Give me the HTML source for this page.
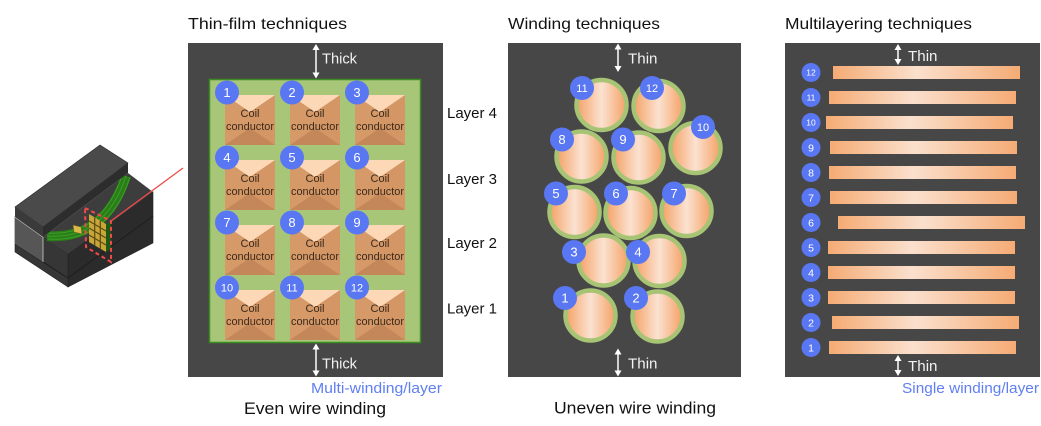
<!DOCTYPE html>
<html><head><meta charset="utf-8"><style>
html,body{margin:0;padding:0;background:#fff;}
svg{display:block;font-family:"Liberation Sans","DejaVu Sans",sans-serif;}
</style></head><body>
<svg width="1041" height="426" viewBox="0 0 1041 426" xmlns="http://www.w3.org/2000/svg">
<defs>
<linearGradient id="cg" x1="0" y1="0" x2="1" y2="0">
<stop offset="0" stop-color="#f4a165"/><stop offset="0.5" stop-color="#fbe2d1"/><stop offset="1" stop-color="#f4a165"/>
</linearGradient>
<linearGradient id="bg" x1="0" y1="0" x2="1" y2="0">
<stop offset="0" stop-color="#f5ab74"/><stop offset="0.45" stop-color="#fae0cd"/><stop offset="1" stop-color="#f5ab74"/>
</linearGradient>
<g id="coil">
<rect x="0" y="0" width="50" height="50" fill="#d49664"/>
<polygon points="0,0 25,17 25,33 0,50" fill="#d69968"/>
<polygon points="0,0 50,0 25,17" fill="#fcd8b6"/>
<polygon points="0,50 50,50 25,33" fill="#c4875a"/>
<text x="25" y="22" font-size="11" text-anchor="middle" fill="#3a2a1c">Coil</text>
<text x="25" y="35" font-size="11" text-anchor="middle" fill="#3a2a1c" textLength="48" lengthAdjust="spacingAndGlyphs">conductor</text>
</g>
<g id="up"><polygon points="0,0 -3.5,6 3.5,6" fill="#fff"/></g>
<g id="dn"><polygon points="0,0 -3.5,-6 3.5,-6" fill="#fff"/></g>
</defs>

<!-- ===== Device ===== -->
<polygon points="68,254 153,192 153,243 68,287" fill="#2b2b2b" stroke="#222" stroke-width="0.6"/>
<polygon points="15,217 68,254 68,287 15,252" fill="#363636" stroke="#222" stroke-width="0.6"/>
<polyline points="15,244 68,278 153,216" stroke="#1e1e1e" stroke-width="1" fill="none"/>
<polygon points="43,237 68,254 153,192 128,173" fill="#3d3d3d"/>
<polygon points="15,217 43,237 43,262 15,244" fill="#565656"/>
<line x1="15" y1="217" x2="43" y2="237" stroke="#ddd" stroke-width="1"/>
<line x1="43" y1="237" x2="43" y2="262" stroke="#ccc" stroke-width="0.8"/>
<path d="M47,236 Q105,240 126,176" stroke="#2a7d18" stroke-width="10" fill="none"/>
<path d="M47,233 Q101,237 122,176" stroke="#3aa024" stroke-width="1" fill="none"/>
<path d="M47,236 Q105,240 126,176" stroke="#3aa024" stroke-width="1" fill="none"/>
<path d="M48,239 Q109,243 130,177" stroke="#3aa024" stroke-width="1" fill="none"/>
<polygon points="73,225 81,227 82,234 74,232" fill="#d8b848" stroke="#6a5a1a" stroke-width="0.5"/>
<!-- coil grid -->
<polygon points="106,224 111,221 111,249 106,252" fill="#1f5a12"/>
<polygon points="89,214 106,224 106,252 89,242" fill="#c9a63a"/>
<g stroke="#5a4a12" stroke-width="1.2">
<line x1="94.7" y1="217.4" x2="94.7" y2="245.4"/>
<line x1="100.3" y1="220.7" x2="100.3" y2="248.7"/>
<line x1="89" y1="221" x2="106" y2="231"/>
<line x1="89" y1="228" x2="106" y2="238"/>
<line x1="89" y1="235" x2="106" y2="245"/>
</g>
<!-- top slab -->
<polygon points="15,207 100,145 128,163 43,227" fill="#4a4a4a" stroke="#2a2a2a" stroke-width="0.6"/>
<polygon points="15,207 43,227 43,237 15,217" fill="#3a3a3a"/>
<polygon points="43,227 128,163 128,173 43,237" fill="#2d2d2d"/>
<!-- red dashed selection & line -->
<polygon points="85,208 111,221 111,262 86,247" fill="none" stroke="#f04a4a" stroke-width="2" stroke-dasharray="4,3"/>
<line x1="111" y1="221" x2="183" y2="168" stroke="#f04a4a" stroke-width="1.3"/>

<!-- ===== Titles ===== -->
<text x="188" y="29" font-size="16" fill="#111" textLength="159" lengthAdjust="spacingAndGlyphs">Thin-film techniques</text>
<text x="508" y="29" font-size="16" fill="#111" textLength="152" lengthAdjust="spacingAndGlyphs">Winding techniques</text>
<text x="785" y="29" font-size="16" fill="#111" textLength="187" lengthAdjust="spacingAndGlyphs">Multilayering techniques</text>

<!-- ===== Panel 1 ===== -->
<rect x="188" y="43" width="255" height="334" fill="#474747"/>
<rect x="209.5" y="79.5" width="211" height="263" fill="#a8c678" stroke="#3d8c23" stroke-width="1.5"/>
<use href="#coil" x="225" y="95"/><use href="#coil" x="290" y="95"/><use href="#coil" x="355" y="95"/>
<use href="#coil" x="225" y="160"/><use href="#coil" x="290" y="160"/><use href="#coil" x="355" y="160"/>
<use href="#coil" x="225" y="225"/><use href="#coil" x="290" y="225"/><use href="#coil" x="355" y="225"/>
<use href="#coil" x="225" y="290"/><use href="#coil" x="290" y="290"/><use href="#coil" x="355" y="290"/>
<g fill="#5977f2">
<circle cx="227" cy="92.5" r="12"/><circle cx="292" cy="92.5" r="12"/><circle cx="357" cy="92.5" r="12"/>
<circle cx="227" cy="157.5" r="12"/><circle cx="292" cy="157.5" r="12"/><circle cx="357" cy="157.5" r="12"/>
<circle cx="227" cy="222.5" r="12"/><circle cx="292" cy="222.5" r="12"/><circle cx="357" cy="222.5" r="12"/>
<circle cx="227" cy="287.5" r="12"/><circle cx="292" cy="287.5" r="12"/><circle cx="357" cy="287.5" r="12"/>
</g>
<g fill="#fff" font-size="13" text-anchor="middle">
<text x="227" y="97">1</text><text x="292" y="97">2</text><text x="357" y="97">3</text>
<text x="227" y="162">4</text><text x="292" y="162">5</text><text x="357" y="162">6</text>
<text x="227" y="227">7</text><text x="292" y="227">8</text><text x="357" y="227">9</text>
</g>
<g fill="#fff" font-size="11" text-anchor="middle">
<text x="227" y="291.5">10</text><text x="292" y="291.5">11</text><text x="357" y="291.5">12</text>
</g>
<!-- thick arrows -->
<line x1="316" y1="46" x2="316" y2="76" stroke="#fff" stroke-width="1.5"/>
<use href="#up" x="316" y="44"/><use href="#dn" x="316" y="78.5"/>
<text x="322" y="63.5" font-size="15" fill="#f2f2f2" textLength="35" lengthAdjust="spacingAndGlyphs">Thick</text>
<line x1="316" y1="346" x2="316" y2="374" stroke="#fff" stroke-width="1.5"/>
<use href="#up" x="316" y="343.5"/><use href="#dn" x="316" y="376.5"/>
<text x="322" y="368.5" font-size="15" fill="#f2f2f2" textLength="35" lengthAdjust="spacingAndGlyphs">Thick</text>
<text x="311" y="393" font-size="15" fill="#5f7ff2" textLength="131" lengthAdjust="spacingAndGlyphs">Multi-winding/layer</text>
<text x="244" y="414" font-size="17" fill="#111" textLength="142" lengthAdjust="spacingAndGlyphs">Even wire winding</text>

<!-- layer labels -->
<g font-size="15" fill="#111">
<text x="447" y="118" textLength="50" lengthAdjust="spacingAndGlyphs">Layer 4</text>
<text x="447" y="184" textLength="50" lengthAdjust="spacingAndGlyphs">Layer 3</text>
<text x="447" y="248" textLength="50" lengthAdjust="spacingAndGlyphs">Layer 2</text>
<text x="447" y="313.5" textLength="50" lengthAdjust="spacingAndGlyphs">Layer 1</text>
</g>

<!-- ===== Panel 2 ===== -->
<rect x="508" y="43" width="233" height="334" fill="#474747"/>
<g fill="url(#cg)" stroke="#a6c474" stroke-width="4.5">
<circle cx="601.5" cy="105" r="25"/>
<circle cx="658.5" cy="106" r="25"/>
<circle cx="581.5" cy="156.5" r="25"/>
<circle cx="638.5" cy="157.5" r="25"/>
<circle cx="695.5" cy="148" r="25"/>
<circle cx="574.5" cy="212" r="25"/>
<circle cx="630.5" cy="213" r="25"/>
<circle cx="686.5" cy="211" r="25"/>
<circle cx="603.5" cy="260.5" r="25"/>
<circle cx="659.5" cy="261" r="25"/>
<circle cx="590.5" cy="315.5" r="25"/>
<circle cx="657.5" cy="316.5" r="25"/>
</g>
<g fill="#5977f2">
<circle cx="582" cy="88" r="12"/><circle cx="652" cy="88" r="12"/>
<circle cx="562" cy="139.5" r="12"/><circle cx="623" cy="139.5" r="12"/><circle cx="703" cy="127" r="12"/>
<circle cx="556" cy="193.5" r="12"/><circle cx="616" cy="193.5" r="12"/><circle cx="674" cy="193.5" r="12"/>
<circle cx="574" cy="252" r="12"/><circle cx="638" cy="252" r="12"/>
<circle cx="565" cy="298" r="12"/><circle cx="636" cy="298" r="12"/>
</g>
<g fill="#fff" font-size="11" text-anchor="middle">
<text x="582" y="92">11</text><text x="652" y="92">12</text><text x="703" y="131">10</text>
</g>
<g fill="#fff" font-size="13" text-anchor="middle">
<text x="562" y="144">8</text><text x="623" y="144">9</text>
<text x="556" y="198">5</text><text x="616" y="198">6</text><text x="674" y="198">7</text>
<text x="574" y="256.5">3</text><text x="638" y="256.5">4</text>
<text x="565" y="302.5">1</text><text x="636" y="302.5">2</text>
</g>
<line x1="618" y1="46" x2="618" y2="69" stroke="#fff" stroke-width="1.5"/>
<use href="#up" x="618" y="43.5"/><use href="#dn" x="618" y="72"/>
<text x="628" y="63.5" font-size="15" fill="#f2f2f2" textLength="29.5" lengthAdjust="spacingAndGlyphs">Thin</text>
<line x1="618" y1="351" x2="618" y2="374" stroke="#fff" stroke-width="1.5"/>
<use href="#up" x="618" y="348.5"/><use href="#dn" x="618" y="376.5"/>
<text x="628" y="368.5" font-size="15" fill="#f2f2f2" textLength="29.5" lengthAdjust="spacingAndGlyphs">Thin</text>
<text x="554" y="413.5" font-size="17" fill="#111" textLength="162" lengthAdjust="spacingAndGlyphs">Uneven wire winding</text>

<!-- ===== Panel 3 ===== -->
<rect x="785" y="43" width="255" height="334" fill="#474747"/>
<g fill="url(#bg)">
<rect x="833" y="66" width="187" height="13"/>
<rect x="829" y="91" width="187" height="13"/>
<rect x="826" y="116" width="187" height="13"/>
<rect x="830" y="141" width="187" height="13"/>
<rect x="829" y="166" width="187" height="13"/>
<rect x="830" y="191" width="187" height="13"/>
<rect x="838" y="216" width="187" height="13"/>
<rect x="828" y="241" width="187" height="13"/>
<rect x="828" y="266" width="187" height="13"/>
<rect x="828" y="291" width="187" height="13"/>
<rect x="832" y="316" width="187" height="13"/>
<rect x="829" y="341" width="187" height="13"/>
</g>
<g fill="#5977f2">
<circle cx="811" cy="72.5" r="9.5"/><circle cx="811" cy="97.5" r="9.5"/><circle cx="811" cy="122.5" r="9.5"/>
<circle cx="811" cy="147.5" r="9.5"/><circle cx="811" cy="172.5" r="9.5"/><circle cx="811" cy="197.5" r="9.5"/>
<circle cx="811" cy="222.5" r="9.5"/><circle cx="811" cy="247.5" r="9.5"/><circle cx="811" cy="272.5" r="9.5"/>
<circle cx="811" cy="297.5" r="9.5"/><circle cx="811" cy="322.5" r="9.5"/><circle cx="811" cy="347.5" r="9.5"/>
</g>
<g fill="#fff" font-size="8.5" text-anchor="middle">
<text x="811" y="75.5">12</text><text x="811" y="100.5">11</text><text x="811" y="125.5">10</text>
</g>
<g fill="#fff" font-size="10.5" text-anchor="middle">
<text x="811" y="151.3">9</text><text x="811" y="176.3">8</text><text x="811" y="201.3">7</text>
<text x="811" y="226.3">6</text><text x="811" y="251.3">5</text><text x="811" y="276.3">4</text>
<text x="811" y="301.3">3</text><text x="811" y="326.3">2</text><text x="811" y="351.3">1</text>
</g>
<line x1="898" y1="46.5" x2="898" y2="62.5" stroke="#fff" stroke-width="1.5"/>
<use href="#up" x="898" y="44"/><use href="#dn" x="898" y="65"/>
<text x="908" y="61" font-size="15" fill="#f2f2f2" textLength="29.5" lengthAdjust="spacingAndGlyphs">Thin</text>
<line x1="898" y1="357.5" x2="898" y2="373.5" stroke="#fff" stroke-width="1.5"/>
<use href="#up" x="898" y="355"/><use href="#dn" x="898" y="376"/>
<text x="908" y="371" font-size="15" fill="#f2f2f2" textLength="29.5" lengthAdjust="spacingAndGlyphs">Thin</text>
<text x="902" y="393" font-size="15" fill="#5f7ff2" textLength="137" lengthAdjust="spacingAndGlyphs">Single winding/layer</text>
</svg>
</body></html>
